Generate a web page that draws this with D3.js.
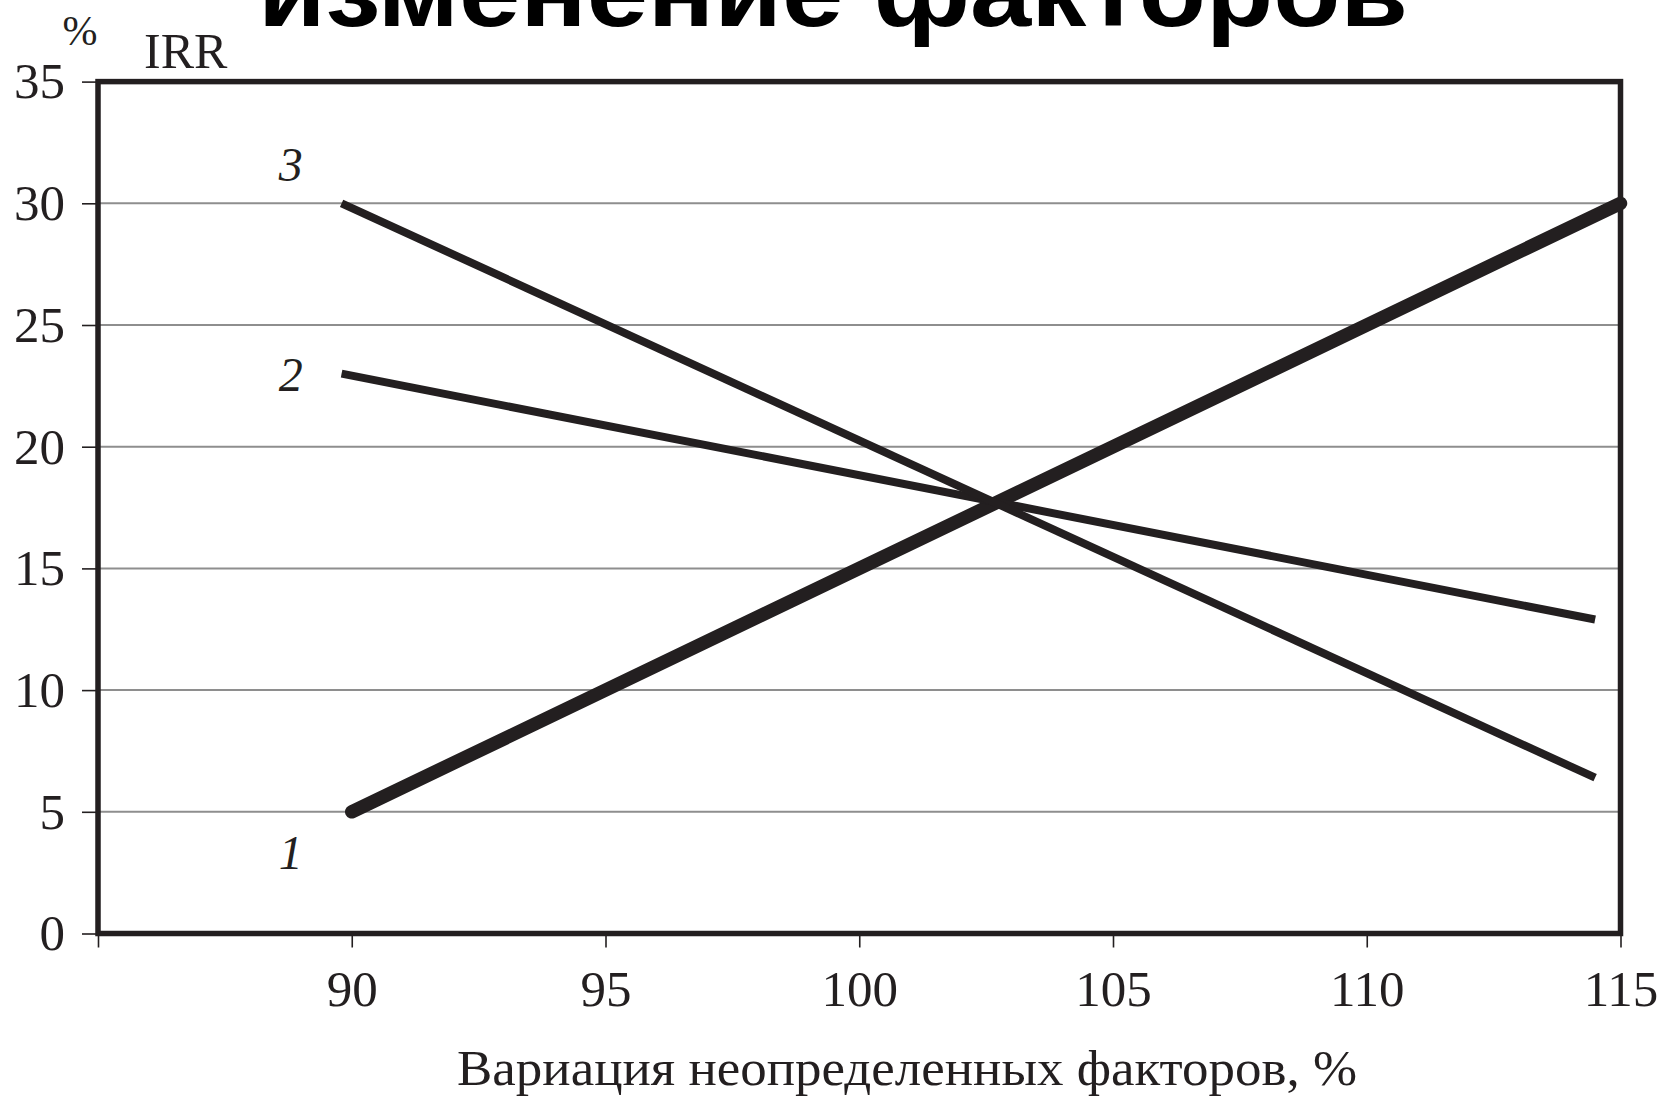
<!DOCTYPE html>
<html>
<head>
<meta charset="utf-8">
<script src="https://cdn.jsdelivr.net/npm/d3@7"></script>
<style>
  html, body { margin: 0; padding: 0; background: #fff; }
  svg { display: block; }
  text { fill: #231f20; }
</style>
</head>
<body>
<svg id="chart" width="1663" height="1099"></svg>
<script>
// ---- data ----
const xTicks = [85, 90, 95, 100, 105, 110, 115];
const xTickLabels = ["", "90", "95", "100", "105", "110", "115"];
const yTicks = [0, 5, 10, 15, 20, 25, 30, 35];
const yTickLabels = ["0", "5", "10", "15", "20", "25", "30", "35"];
const gridValues = [5, 10, 15, 20, 25, 30];

const seriesNames = ["1", "2", "3"];
const series1X = [90, 115];
const series1Y = [5, 30];
const series2X = [89.8, 114.5];
const series2Y = [23, 12.9];
const series3X = [89.8, 114.5];
const series3Y = [30, 6.4];

const titleText = "изменение факторов";
const xAxisTitle = "Вариация неопределенных факторов, %";
const yUnit = "%";
const yAxisTitle = "IRR";

// ---- layout ----
const svg = d3.select("#chart");
const mLeft = 98, mRight = 1620.5, mTop = 81.6, mBottom = 933.5;
const x = d3.scaleLinear().domain([85, 115]).range([mLeft, mRight]);
const y = d3.scaleLinear().domain([0, 35]).range([mBottom, mTop]);
const ink = "#231f20";
const serif = "'Liberation Serif', 'Times New Roman', serif";

// cut-off slide title at the very top (cropped in the reference too)
svg.append("text")
  .attr("x", 258).attr("y", 26)
  .attr("textLength", 1150).attr("lengthAdjust", "spacingAndGlyphs")
  .style("font-family", "'Liberation Sans', Arial, sans-serif")
  .style("font-weight", "bold").style("font-size", "100px")
  .style("fill", "#000")
  .text(titleText);

// gridlines
svg.append("g").selectAll("line").data(gridValues).join("line")
  .attr("x1", mLeft).attr("x2", mRight)
  .attr("y1", d => y(d)).attr("y2", d => y(d))
  .attr("stroke", "#8e8e8e").attr("stroke-width", 2);

// y axis
const yAxis = d3.axisLeft(y).tickValues(yTicks)
  .tickFormat((d, i) => yTickLabels[i]).tickSize(16).tickPadding(17);
const gy = svg.append("g").attr("transform", `translate(${mLeft},0)`).call(yAxis);
gy.select(".domain").remove();
gy.selectAll(".tick line").attr("stroke", ink).attr("stroke-width", 1.6);
gy.selectAll(".tick text").style("font-family", serif).style("font-size", "51px")
  .attr("fill", ink);

// x axis
const xAxis = d3.axisBottom(x).tickValues(xTicks)
  .tickFormat((d, i) => xTickLabels[i]).tickSize(14).tickPadding(22);
const gx = svg.append("g").attr("transform", `translate(0,${mBottom})`).call(xAxis);
gx.select(".domain").remove();
gx.selectAll(".tick line").attr("stroke", ink).attr("stroke-width", 1.6);
gx.selectAll(".tick text").style("font-family", serif).style("font-size", "51px")
  .attr("fill", ink);

// frame
svg.append("rect")
  .attr("x", mLeft).attr("y", mTop)
  .attr("width", mRight - mLeft).attr("height", mBottom - mTop)
  .attr("fill", "none").attr("stroke", ink).attr("stroke-width", 5.5);

// series lines
const lineGen = d3.line().x(d => x(d[0])).y(d => y(d[1]));
const seriesDefs = [
  { xs: series1X, ys: series1Y, w: 13.5, cap: "round" },
  { xs: series2X, ys: series2Y, w: 8, cap: "butt" },
  { xs: series3X, ys: series3Y, w: 8, cap: "butt" }
];
svg.append("g").selectAll("path").data(seriesDefs).join("path")
  .attr("d", s => lineGen(s.xs.map((v, i) => [v, s.ys[i]])))
  .attr("fill", "none").attr("stroke", ink)
  .attr("stroke-width", s => s.w).attr("stroke-linecap", s => s.cap);

// series labels (italic numbers)
const labelPos = [
  { name: seriesNames[0], xv: 88.8, yv: 2.65 },
  { name: seriesNames[1], xv: 88.8, yv: 22.3 },
  { name: seriesNames[2], xv: 88.8, yv: 30.9 }
];
svg.append("g").selectAll("text").data(labelPos).join("text")
  .attr("x", d => x(d.xv)).attr("y", d => y(d.yv))
  .attr("text-anchor", "middle")
  .style("font-family", serif).style("font-style", "italic").style("font-size", "48px")
  .text(d => d.name);

// axis titles
svg.append("text").attr("x", 80).attr("y", 45).attr("text-anchor", "middle")
  .style("font-family", serif).style("font-size", "42px").text(yUnit);
svg.append("text").attr("x", 144).attr("y", 68)
  .style("font-family", serif).style("font-size", "50px").text(yAxisTitle);
svg.append("text").attr("x", 457).attr("y", 1085)
  .attr("textLength", 900).attr("lengthAdjust", "spacingAndGlyphs")
  .style("font-family", serif).style("font-size", "50px").text(xAxisTitle);
</script>
</body>
</html>
